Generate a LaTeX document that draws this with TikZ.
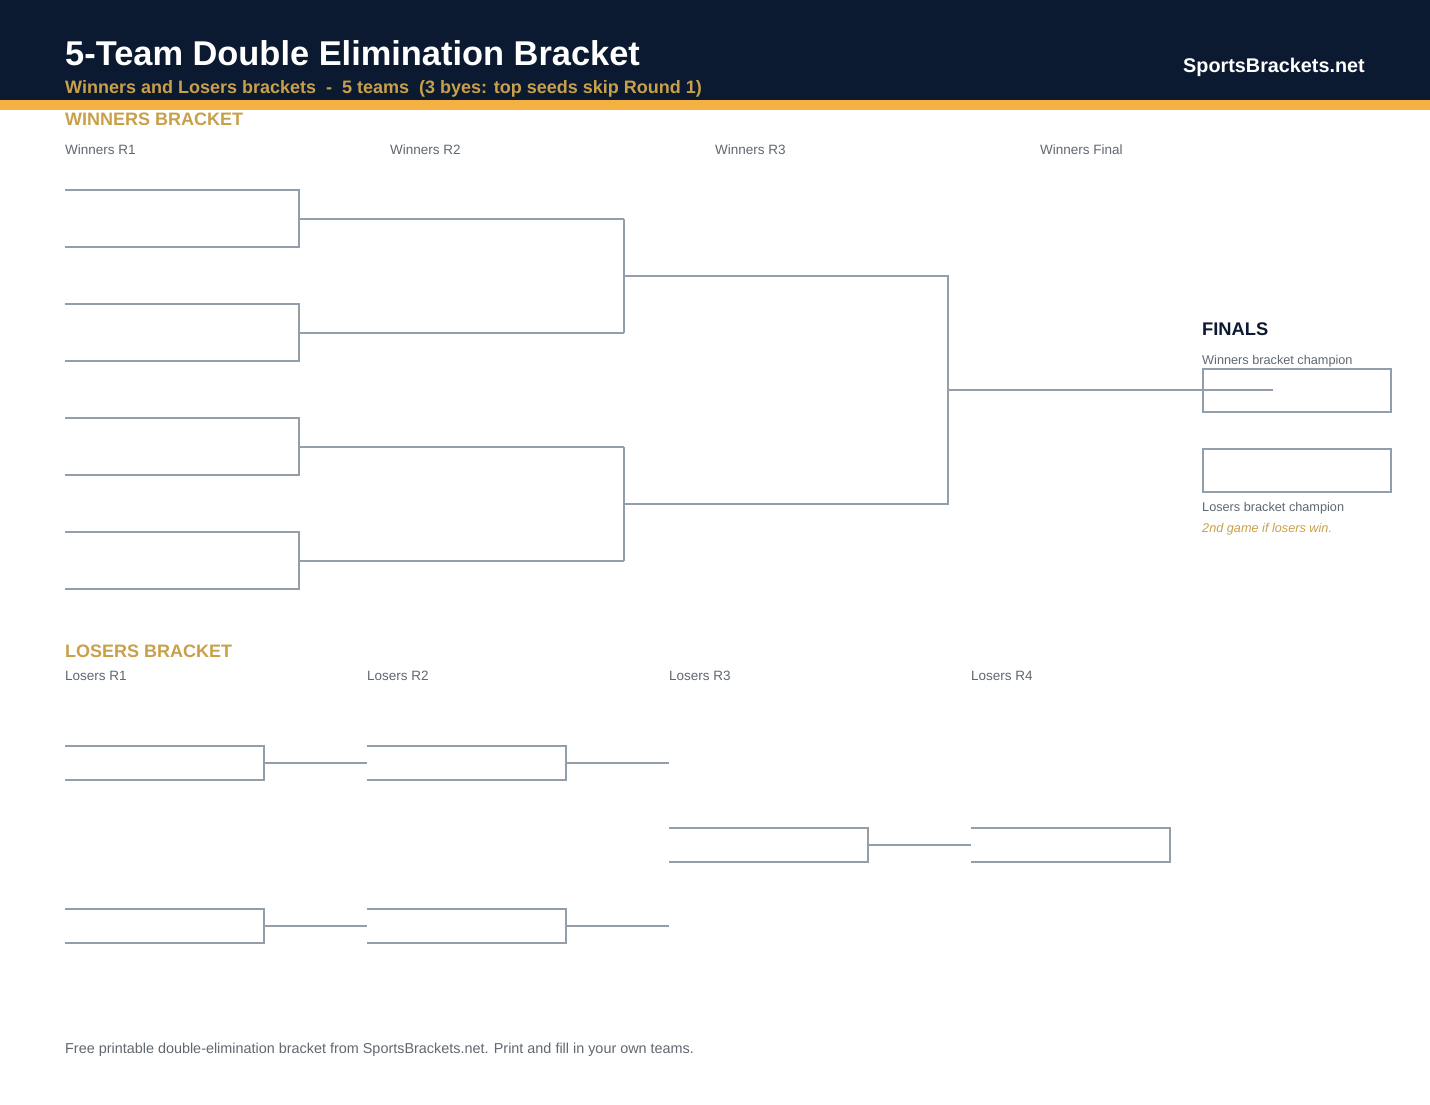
\documentclass[tikz,border=0pt]{standalone}
\usepackage{fontspec}
\setmainfont{Liberation Sans}
\definecolor{navy}{HTML}{0B1A30}
\definecolor{band}{HTML}{F5B042}
\definecolor{gold}{HTML}{C9A04A}
\definecolor{lgray}{HTML}{929EAA}
\definecolor{tgray}{HTML}{5F6770}
\begin{document}
\begin{tikzpicture}[x=1pt,y=-1pt,
  line/.style={draw=lgray,line width=2pt},
  txt/.style={anchor=base west,inner sep=0pt},
  rlabel/.style={txt,text=tgray,font=\fontsize{13.5}{15}\selectfont},
  seclabel/.style={txt,text=gold,font=\fontsize{18}{20}\selectfont\bfseries},
  champ/.style={draw=lgray,line width=2pt,minimum width=188pt,minimum height=43pt,inner sep=0pt,anchor=north west}]
\useasboundingbox (0,0) rectangle (1430,1105);
\fill[navy] (0,0) rectangle (1430,100);
\fill[band] (0,100) rectangle (1430,110);
\node[txt,text=white,font=\fontsize{34.4}{38}\selectfont\bfseries] (title) at (65,66) {5-Team Double Elimination Bracket};
\node[txt,text=gold,font=\fontsize{18}{20}\selectfont\bfseries] (sub) at (65,94) {Winners and Losers brackets\ \ -\ \ 5 teams\ \ (3 byes: top seeds skip Round 1)};
\node[anchor=base east,inner sep=0pt,text=white,font=\fontsize{19.8}{22}\selectfont\bfseries] (site) at (1365,73) {SportsBrackets.net};
% winners
\node[seclabel] (wb) at (65,126) {WINNERS BRACKET};
\node[rlabel] (wr1) at (65,155) {Winners R1};
\node[rlabel] (wr2) at (390,155) {Winners R2};
\node[rlabel] (wr3) at (715,155) {Winners R3};
\node[rlabel] (wf) at (1040,155) {Winners Final};
% R1 slots
\foreach \i/\a/\b in {1/190/247,2/304/361,3/418/475,4/532/589}{
  \coordinate (a\i) at (65,\a); \coordinate (b\i) at (65,\b);
  \coordinate (ae\i) at (299,\a); \coordinate (be\i) at (299,\b);
  \draw[line] (a\i) -- (ae\i) -- (be\i) -- (b\i);
}
% R2
\foreach \i/\y in {1/218.5,2/332.5,3/446.5,4/560.5}{
  \coordinate (m\i) at (299,\y); \coordinate (me\i) at (624,\y);
  \draw[line] (m\i) -- (me\i);
}
\draw[line] (me1) -- (me2);
\draw[line] (me3) -- (me4);
% R3
\coordinate (n1) at (624,275.5); \coordinate (ne1) at (948,275.5);
\coordinate (n2) at (624,503.5); \coordinate (ne2) at (948,503.5);
\draw[line] (n1) -- (ne1) -- (ne2) -- (n2);
\coordinate (f0) at (948,389.5); \coordinate (f1) at (1273,389.5);
\draw[line] (f0) -- (f1);
% finals
\node[txt,text=navy,font=\fontsize{18.3}{20}\selectfont\bfseries] (fin) at (1202,335) {FINALS};
\node[rlabel,font=\fontsize{12.7}{15}\selectfont] (wbc) at (1202,364) {Winners bracket champion};
\node[champ] (box1) at (1202,368) {};
\node[champ] (box2) at (1202,448) {};
\node[rlabel,font=\fontsize{12.7}{15}\selectfont] (lbc) at (1202,511) {Losers bracket champion};
\node[txt,text=gold,font=\fontsize{12.7}{15}\selectfont\itshape] (note) at (1202,532) {2nd game if losers win.};
% losers
\node[seclabel] (lb) at (65,657) {LOSERS BRACKET};
\node[rlabel] (lr1) at (65,680) {Losers R1};
\node[rlabel] (lr2) at (367,680) {Losers R2};
\node[rlabel] (lr3) at (669,680) {Losers R3};
\node[rlabel] (lr4) at (971,680) {Losers R4};
\foreach \n/\x/\t in {p/65/746,q/367/746,r/65/909,s/367/909,u/669/828,v/971/828}{
  \coordinate (\n a) at (\x,\t);
  \coordinate (\n ae) at ({\x+199},\t);
  \coordinate (\n be) at ({\x+199},{\t+34});
  \coordinate (\n b) at (\x,{\t+34});
  \coordinate (\n m) at ({\x+199},{\t+17});
  \draw[line] (\n a) -- (\n ae) -- (\n be) -- (\n b);
}
\coordinate (qin) at (367,763); \coordinate (sin) at (367,926);
\coordinate (qout) at (669,763); \coordinate (sout) at (669,926);
\coordinate (vin) at (971,845);
\draw[line] (pm) -- (qin);
\draw[line] (rm) -- (sin);
\draw[line] (qm) -- (qout);
\draw[line] (sm) -- (sout);
\draw[line] (um) -- (vin);
\node[rlabel,font=\fontsize{14.4}{16}\selectfont] (foot) at (65,1053) {Free printable double-elimination bracket from SportsBrackets.net. Print and fill in your own teams.};
\end{tikzpicture}
\end{document}
